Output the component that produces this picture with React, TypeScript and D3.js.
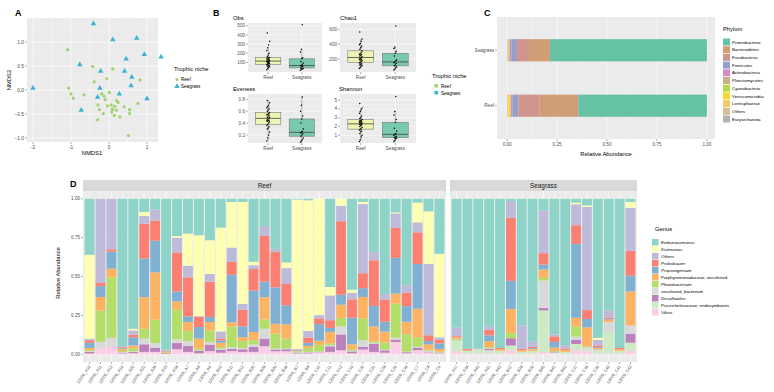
import React from "react";
import * as d3 from "d3";

const FONT = "'Liberation Sans', Arial, Helvetica, sans-serif";
const PANEL_BG = "#EBEBEB";
const TICK_TXT = "#4D4D4D";
const TICK_LINE = "#333";

// ---------- A: NMDS ordination
const reefNmds1 = [-1.09, -0.43, 0.1, 0.82, -0.39, -0.06, -1.06, -1.0, -0.94, -0.66, -0.19, 0.01, -0.1, -0.29, -0.04, 0.06, 0.2, 0.24, 0.15, 0.09, 0.19, 0.4, 0.54, 0.54, 0.76, -0.25, -0.15, 0.14, 0.29, -0.3, 0.51, -0.13, 0.07];
const reefNmds2 = [0.84, 0.49, 0.44, 0.21, 0.17, 0.24, 0.04, -0.08, -0.17, -0.1, -0.08, -0.05, -0.2, -0.31, -0.33, -0.31, -0.22, -0.26, -0.34, -0.4, -0.42, -0.35, -0.41, -0.49, -0.28, -0.41, -0.49, -0.53, -0.56, -0.62, -0.95, -0.13, -0.46];
const seagrassNmds1 = [-0.41, 0.1, 0.73, 0.93, 1.37, 0.45, -0.77, -0.22, 0.41, 0.6, -2.0, -0.24, 0.58, 0.27, -0.3, 1.0, -0.73];
const seagrassNmds2 = [1.38, 1.05, 1.08, 0.74, 0.69, 0.65, 0.53, 0.39, 0.39, 0.27, 0.04, 0.04, 0.09, -0.08, -0.15, -0.18, -0.42];
const nmdsXTicks = [-2, -1, 0, 1];
const nmdsYTicks = [-1, -0.5, 0, 0.5, 1];

// ---------- B: alpha diversity
const niches = ["Reef", "Seagrass"];
const obsReef = [20, 35, 45, 55, 60, 65, 70, 75, 80, 85, 90, 95, 100, 105, 110, 110, 115, 120, 125, 130, 135, 140, 145, 150, 155, 165, 180, 200, 230, 260, 290, 330, 420];
const obsSeagrass = [15, 25, 30, 35, 40, 50, 60, 65, 67, 75, 90, 110, 140, 150, 215, 245, 510];
const chaoReef = [70, 85, 100, 110, 120, 130, 135, 145, 155, 165, 175, 185, 190, 196, 200, 210, 220, 230, 240, 250, 260, 265, 270, 290, 310, 330, 350, 370, 390, 410, 440, 470, 564];
const chaoSeagrass = [50, 65, 80, 95, 107, 120, 140, 150, 160, 175, 190, 240, 276, 300, 340, 360, 644];
const evenReef = [0.1, 0.15, 0.2, 0.25, 0.3, 0.32, 0.34, 0.36, 0.38, 0.4, 0.42, 0.43, 0.44, 0.45, 0.45, 0.46, 0.48, 0.5, 0.5, 0.52, 0.53, 0.54, 0.55, 0.56, 0.58, 0.6, 0.62, 0.64, 0.66, 0.68, 0.7, 0.74, 0.78];
const evenSeagrass = [0.08, 0.1, 0.12, 0.15, 0.18, 0.2, 0.22, 0.24, 0.245, 0.26, 0.3, 0.4, 0.47, 0.52, 0.6, 0.7, 0.84];
const shannonReef = [0.3, 0.5, 0.8, 1.0, 1.2, 1.4, 1.5, 1.6, 1.7, 1.8, 1.9, 2.0, 2.1, 2.2, 2.25, 2.28, 2.3, 2.4, 2.45, 2.5, 2.55, 2.6, 2.66, 2.7, 2.8, 2.9, 3.0, 3.2, 3.5, 3.7, 3.9, 4.1, 4.6];
const shannonSeagrass = [0.3, 0.45, 0.6, 0.7, 0.73, 0.8, 0.9, 1.0, 1.11, 1.2, 1.5, 1.8, 2.48, 2.8, 3.3, 3.7, 5.4];

// ---------- C: phylum composition (Reef, Seagrass)
const phyla = ["Proteobacteria", "Bacteroidetes", "Fusobacteria", "Firmicutes", "Actinobacteria", "Planctomycetes", "Cyanobacteria", "Verrucomicrobia", "Lentisphaerae", "Others", "Euryarchaeota"];
const proteobacteria = [0.643, 0.785];
const bacteroidetes = [0.196, 0.105];
const fusobacteria = [0.105, 0.06];
const firmicutes = [0.03, 0.028];
const actinobacteria = [0.007, 0.008];
const planctomycetes = [0.002, 0.004];
const cyanobacteria = [0.001, 0.001];
const verrucomicrobia = [0.01, 0.002];
const lentisphaerae = [0.003, 0.002];
const otherPhyla = [0.002, 0.003];
const euryarchaeota = [0.001, 0.001];
const abundanceTicks = [0, 0.25, 0.5, 0.75, 1];

// ---------- D: genus composition per sample
const reefSamples = ["12006_A10", "12006_A11", "12006_A12", "12006_A19", "12006_A20", "12006_A21", "12006_A28", "12006_A33", "12006_A34", "12006_A7", "12006_A8", "12006_A9", "12006_B10", "12006_B11", "12006_B12", "12006_B20", "12006_B28", "12006_B29", "12006_B34", "12006_B7", "12006_B8", "12006_C10", "12006_C11", "12006_C12", "12006_C19", "12006_C20", "12006_C21", "12006_C28", "12006_C29", "12006_C34", "12006_C7", "12006_C8", "12006_C9"];
const seagrassSamples = ["12006_A37", "12006_A38", "12006_A40", "12006_A41", "12006_A42", "12006_B37", "12006_B38", "12006_B39", "12006_B40", "12006_B41", "12006_B42", "12006_C37", "12006_C38", "12006_C39", "12006_C40", "12006_C41", "12006_C42"];
const genera = ["Endozoicomonas", "Kistimonas", "Others", "Prolixibacter", "Propionigenium", "Porphyromonadaceae; uncultured", "Photobacterium", "uncultured_bacterium", "Desulfotalea", "Piscirickettsiaceae; endosymbionts", "Vibrio"];
const endozoicomonas = [0.36, 0, 0, 0.935, 0.836, 0.085, 0.07, 0.97, 0.24, 0.224, 0.235, 0.267, 0.185, 0.02, 0.02, 0.405, 0.175, 0.322, 0.41, 0.005, 0.01, 0, 0.568, 0, 0.585, 0.02, 0.344, 0.615, 0.088, 0.558, 0.024, 0.081, 0.355, 0.83, 0.964, 0.96, 0.82, 0.96, 0.015, 0.815, 0.92, 0.075, 0.872, 0.942, 0.025, 0.043, 0.893, 0.718, 0.96, 0.02];
const kistimonas = [0.54, 0, 0, 0, 0.01, 0.025, 0, 0, 0.01, 0.206, 0.52, 0.217, 0.668, 0.293, 0.656, 0.022, 0, 0, 0.036, 0.965, 0.84, 0.75, 0.054, 0.045, 0.02, 0.014, 0, 0, 0.006, 0, 0.128, 0.338, 0.538, 0, 0, 0, 0, 0, 0, 0, 0, 0, 0, 0, 0.01, 0.01, 0.013, 0, 0, 0.038];
const otherGenera = [0.01, 0.54, 0.325, 0.005, 0.028, 0.05, 0.07, 0.006, 0.095, 0.075, 0.005, 0.049, 0.047, 0.092, 0.038, 0.025, 0.064, 0.021, 0.102, 0.006, 0.043, 0.021, 0.16, 0.1, 0.042, 0.445, 0.053, 0.035, 0.094, 0.047, 0.064, 0.459, 0.017, 0.055, 0.003, 0.006, 0.022, 0, 0.107, 0.15, 0.033, 0.275, 0.013, 0.022, 0.135, 0.663, 0.036, 0.047, 0, 0.277];
const prolixibacter = [0.017, 0.02, 0.015, 0.005, 0.016, 0.224, 0.13, 0.003, 0.252, 0.252, 0.065, 0.227, 0.011, 0.083, 0.106, 0.138, 0.294, 0.227, 0.138, 0.003, 0.034, 0.037, 0.049, 0.475, 0.118, 0.096, 0.295, 0.143, 0.192, 0.087, 0.203, 0.037, 0.022, 0.008, 0.008, 0, 0.036, 0.008, 0.405, 0.008, 0.008, 0.073, 0.036, 0.008, 0.12, 0.057, 0.01, 0.008, 0.008, 0.16];
const propionigenium = [0.033, 0.07, 0.11, 0.005, 0.053, 0.249, 0.203, 0.003, 0.063, 0.036, 0.075, 0.033, 0.015, 0.305, 0.07, 0.267, 0.1, 0.234, 0.122, 0.003, 0.02, 0.107, 0.026, 0.065, 0.171, 0.057, 0.133, 0.064, 0.23, 0.101, 0.288, 0.021, 0.036, 0, 0, 0, 0.037, 0, 0.181, 0, 0.006, 0.032, 0.036, 0, 0.475, 0.054, 0.005, 0.004, 0, 0.102];
const porphyromonadaceae = [0.014, 0.087, 0.055, 0.015, 0.02, 0.203, 0.305, 0.008, 0.054, 0.057, 0.064, 0.054, 0.028, 0.027, 0.025, 0.053, 0.143, 0.064, 0.092, 0.003, 0.013, 0.027, 0.075, 0.085, 0.032, 0.139, 0.096, 0.07, 0.065, 0.081, 0.186, 0.034, 0.017, 0.008, 0.004, 0, 0.038, 0.01, 0.154, 0.01, 0.01, 0.055, 0.022, 0.012, 0.058, 0.124, 0.01, 0.015, 0.01, 0.218];
const photobacterium = [0.006, 0.2, 0.39, 0.005, 0.017, 0.064, 0.15, 0.003, 0.19, 0.065, 0.01, 0.073, 0.011, 0.133, 0.045, 0.028, 0.06, 0.096, 0.064, 0.008, 0.025, 0.043, 0.01, 0.055, 0.01, 0.139, 0.01, 0.047, 0.218, 0.111, 0.06, 0.008, 0.006, 0.01, 0, 0, 0.006, 0, 0.034, 0, 0.004, 0.016, 0.004, 0.003, 0.064, 0.004, 0, 0, 0, 0];
const unculturedBacterium = [0.005, 0.044, 0.058, 0.005, 0.005, 0.036, 0.032, 0, 0.024, 0.032, 0.005, 0.018, 0.006, 0.01, 0.008, 0.015, 0.064, 0.006, 0.004, 0.003, 0.004, 0.006, 0.008, 0.052, 0.004, 0.043, 0.005, 0.004, 0.013, 0.004, 0.007, 0.006, 0.002, 0.005, 0, 0, 0.006, 0, 0, 0, 0, 0.177, 0, 0, 0.02, 0.015, 0.01, 0.064, 0, 0.053];
const desulfotalea = [0.01, 0, 0, 0.005, 0.008, 0.049, 0.025, 0.004, 0.04, 0.038, 0.015, 0.042, 0.019, 0.015, 0.017, 0.032, 0.049, 0.011, 0.013, 0.003, 0.006, 0.003, 0.036, 0.102, 0.012, 0.017, 0.053, 0.015, 0.015, 0.007, 0.014, 0.004, 0.003, 0, 0, 0, 0.008, 0, 0.047, 0, 0, 0.015, 0.005, 0, 0.027, 0, 0, 0, 0, 0.058];
const piscirickettsiaceae = [0, 0, 0, 0, 0, 0, 0, 0, 0, 0, 0, 0, 0, 0, 0, 0, 0, 0, 0, 0, 0, 0, 0, 0, 0, 0, 0, 0, 0, 0, 0, 0, 0, 0.065, 0.015, 0.03, 0.017, 0.018, 0.03, 0.012, 0.015, 0.267, 0.008, 0.01, 0.04, 0.01, 0.017, 0.14, 0.018, 0.053];
const vibrio = [0.005, 0.036, 0.047, 0.005, 0.006, 0.015, 0.015, 0.003, 0.032, 0.015, 0.006, 0.02, 0.01, 0.02, 0.015, 0.015, 0.051, 0.019, 0.019, 0.005, 0.005, 0.008, 0.015, 0.026, 0.006, 0.03, 0.015, 0.01, 0.079, 0.006, 0.026, 0.012, 0.006, 0.02, 0.006, 0.004, 0.009, 0.004, 0.026, 0.005, 0.004, 0.015, 0.004, 0.003, 0.026, 0.02, 0.004, 0.004, 0.004, 0.021];

const nicheColor = { Reef: "#9FD46A", Seagrass: "#3AB3D3" };
const boxFill = { Reef: "#EEF5B2", Seagrass: "#79CAAD" };
const phylumColors = d3.quantize(d3.piecewise(d3.interpolateRgb, d3.schemeSet2 as string[]), 11);
const genusColors = ["#8DD3C7", "#FFFFB3", "#BEBADA", "#FB8072", "#80B1D3", "#FDB462", "#B3DE69", "#D9D9D9", "#BC80BD", "#CCEBC5", "#FCCDE5"];
const italicGenus = new Set(["Endozoicomonas", "Kistimonas", "Prolixibacter", "Propionigenium", "Photobacterium", "Desulfotalea", "Vibrio"]);

function PanelA() {
  const x = d3.scaleLinear().domain([-2.158, 1.289]).range([27, 158]);
  const y = d3.scaleLinear().domain([-1.083, 1.5]).range([142, 18]);
  const tri = d3.symbol(d3.symbolTriangle, 13)();
  const xMinor = [-1.5, -0.5, 0.5];
  const yMinor = [-0.75, -0.25, 0.25, 0.75, 1.25];
  return (
    <g>
      <rect x={27} y={18} width={131} height={124} fill={PANEL_BG} />
      {xMinor.map((v) => <line key={"xm" + v} x1={x(v)} x2={x(v)} y1={18} y2={142} stroke="#fff" strokeWidth={0.3} />)}
      {yMinor.map((v) => <line key={"ym" + v} y1={y(v)} y2={y(v)} x1={27} x2={158} stroke="#fff" strokeWidth={0.3} />)}
      {nmdsXTicks.map((v) => <line key={"xg" + v} x1={x(v)} x2={x(v)} y1={18} y2={142} stroke="#fff" strokeWidth={0.6} />)}
      {nmdsYTicks.map((v) => <line key={"yg" + v} y1={y(v)} y2={y(v)} x1={27} x2={158} stroke="#fff" strokeWidth={0.6} />)}
      {reefNmds1.map((v, i) => <circle key={"r" + i} cx={x(v)} cy={y(reefNmds2[i])} r={1.6} fill={nicheColor.Reef} />)}
      {seagrassNmds1.map((v, i) => <path key={"s" + i} d={tri!} transform={`translate(${x(v)},${y(seagrassNmds2[i])})`} fill={nicheColor.Seagrass} />)}
      {nmdsXTicks.map((v) => (
        <g key={"xt" + v}>
          <line x1={x(v)} x2={x(v)} y1={142} y2={144} stroke={TICK_LINE} strokeWidth={0.4} />
          <text x={x(v)} y={149} fontSize={4.8} textAnchor="middle" fill={TICK_TXT}>{v}</text>
        </g>
      ))}
      {nmdsYTicks.map((v) => (
        <g key={"yt" + v}>
          <line x1={25} x2={27} y1={y(v)} y2={y(v)} stroke={TICK_LINE} strokeWidth={0.4} />
          <text x={24} y={y(v) + 1.7} fontSize={4.8} textAnchor="end" fill={TICK_TXT}>{d3.format(".1f")(v)}</text>
        </g>
      ))}
      <text x={92} y={155} fontSize={5.8} textAnchor="middle">NMDS1</text>
      <text transform="translate(11,80) rotate(-90)" fontSize={5.8} textAnchor="middle">NMDS2</text>
      <text x={174} y={71} fontSize={5.8}>Trophic niche</text>
      <circle cx={177} cy={79.5} r={1.6} fill={nicheColor.Reef} />
      <path d={tri!} transform="translate(177,86.5)" fill={nicheColor.Seagrass} />
      <text x={181} y={81.2} fontSize={4.6}>Reef</text>
      <text x={181} y={88.2} fontSize={4.6}>Seagrass</text>
    </g>
  );
}

type Facet = { title: string; tx: number; ty: number; x0: number; x1: number; y0: number; y1: number; domain: [number, number]; ticks: number[]; fmt: (v: number) => string; reef: number[]; seagrass: number[] };

function boxStats(vals: number[]) {
  const s = [...vals].sort(d3.ascending);
  const q1 = d3.quantile(s, 0.25)!;
  const med = d3.quantile(s, 0.5)!;
  const q3 = d3.quantile(s, 0.75)!;
  const iqr = q3 - q1;
  const lo = d3.min(s.filter((v) => v >= q1 - 1.5 * iqr))!;
  const hi = d3.max(s.filter((v) => v <= q3 + 1.5 * iqr))!;
  return { q1, med, q3, lo, hi };
}

function BoxFacet({ f }: { f: Facet }) {
  const x = d3.scalePoint().domain(niches).range([f.x0, f.x1]).padding(0.6);
  const step = x.step();
  const y = d3.scaleLinear().domain(f.domain).range([f.y1, f.y0]);
  const minor = f.ticks.slice(1).map((t, i) => (t + f.ticks[i]) / 2);
  const groups = [f.reef, f.seagrass];
  return (
    <g>
      <text x={f.tx} y={f.ty} fontSize={5.8}>{f.title}</text>
      <rect x={f.x0} y={f.y0} width={f.x1 - f.x0} height={f.y1 - f.y0} fill={PANEL_BG} />
      {minor.map((v) => <line key={"m" + v} x1={f.x0} x2={f.x1} y1={y(v)} y2={y(v)} stroke="#fff" strokeWidth={0.3} />)}
      {f.ticks.map((v) => <line key={"g" + v} x1={f.x0} x2={f.x1} y1={y(v)} y2={y(v)} stroke="#fff" strokeWidth={0.6} />)}
      {niches.map((n) => <line key={"v" + n} x1={x(n)} x2={x(n)} y1={f.y0} y2={f.y1} stroke="#fff" strokeWidth={0.6} />)}
      {niches.map((n, gi) => {
        const st = boxStats(groups[gi]);
        const cx = x(n)!;
        const w = step * 0.75;
        return (
          <g key={n}>
            <line x1={cx} x2={cx} y1={y(st.hi)} y2={y(st.q3)} stroke="#666" strokeWidth={0.5} />
            <line x1={cx} x2={cx} y1={y(st.q1)} y2={y(st.lo)} stroke="#666" strokeWidth={0.5} />
            <rect x={cx - w / 2} y={y(st.q3)} width={w} height={y(st.q1) - y(st.q3)} fill={boxFill[n as "Reef"]} stroke="#7a7a7a" strokeWidth={0.6} />
            <line x1={cx - w / 2} x2={cx + w / 2} y1={y(st.med)} y2={y(st.med)} stroke="#444" strokeWidth={0.8} />
            {groups[gi].map((v, i) => (
              <circle key={i} cx={cx + (((i * 37) % 7) - 3) * 0.45} cy={y(v)} r={0.75} fill="#000" />
            ))}
            <line x1={cx} x2={cx} y1={f.y1} y2={f.y1 + 2} stroke={TICK_LINE} strokeWidth={0.4} />
            <text x={cx} y={f.y1 + 7} fontSize={4.6} textAnchor="middle" fill={TICK_TXT}>{n}</text>
          </g>
        );
      })}
      {f.ticks.map((v) => (
        <g key={"t" + v}>
          <line x1={f.x0 - 2} x2={f.x0} y1={y(v)} y2={y(v)} stroke={TICK_LINE} strokeWidth={0.4} />
          <text x={f.x0 - 3} y={y(v) + 1.6} fontSize={4.6} textAnchor="end" fill={TICK_TXT}>{f.fmt(v)}</text>
        </g>
      ))}
    </g>
  );
}

function PanelB() {
  const facets: Facet[] = [
    { title: "Obs", tx: 233, ty: 20, x0: 248, x1: 322, y0: 23, y1: 72, domain: [-4, 530], ticks: [100, 200, 300, 400, 500], fmt: (v) => String(v), reef: obsReef, seagrass: obsSeagrass },
    { title: "Chao1", tx: 340, ty: 20, x0: 340, x1: 416, y0: 23, y1: 72, domain: [24, 685], ticks: [200, 400, 600], fmt: (v) => String(v), reef: chaoReef, seagrass: chaoSeagrass },
    { title: "Eveness", tx: 233, ty: 91, x0: 248, x1: 322, y0: 94, y1: 143, domain: [0.066, 0.889], ticks: [0.2, 0.4, 0.6, 0.8], fmt: d3.format(".1f"), reef: evenReef, seagrass: evenSeagrass },
    { title: "Shannon", tx: 339, ty: 91, x0: 340, x1: 416, y0: 94, y1: 143, domain: [0.125, 5.69], ticks: [1, 2, 3, 4, 5], fmt: (v) => String(v), reef: shannonReef, seagrass: shannonSeagrass },
  ];
  return (
    <g>
      {facets.map((f) => <BoxFacet key={f.title} f={f} />)}
      <text x={432} y={78} fontSize={5.8}>Trophic niche</text>
      <rect x={434.5} y={84} width={3.5} height={3.5} fill={nicheColor.Reef} />
      <rect x={434.5} y={91} width={3.5} height={3.5} fill={nicheColor.Seagrass} />
      <text x={441} y={87.6} fontSize={4.6}>Reef</text>
      <text x={441} y={94.6} fontSize={4.6}>Seagrass</text>
    </g>
  );
}

function PanelC() {
  const x = d3.scaleLinear().domain([-0.0508, 1.0406]).range([497, 715]);
  const yb = d3.scaleBand().domain(["Seagrass", "Reef"]).range([17, 139]).paddingInner(0.6).paddingOuter(0.4);
  const byPhylum = [proteobacteria, bacteroidetes, fusobacteria, firmicutes, actinobacteria, planctomycetes, cyanobacteria, verrucomicrobia, lentisphaerae, otherPhyla, euryarchaeota];
  const rows = niches.map((n, i) => {
    const r: Record<string, any> = { niche: n };
    phyla.forEach((p, j) => (r[p] = byPhylum[j][i]));
    return r;
  });
  const keys = [...phyla].reverse();
  const series = d3.stack().keys(keys).offset(d3.stackOffsetExpand)(rows as any);
  const minor = [0.125, 0.375, 0.625, 0.875];
  return (
    <g>
      <rect x={497} y={17} width={218} height={122} fill={PANEL_BG} />
      {minor.map((v) => <line key={"m" + v} x1={x(v)} x2={x(v)} y1={17} y2={139} stroke="#fff" strokeWidth={0.3} />)}
      {abundanceTicks.map((v) => <line key={"g" + v} x1={x(v)} x2={x(v)} y1={17} y2={139} stroke="#fff" strokeWidth={0.6} />)}
      {niches.map((n) => <line key={"h" + n} x1={497} x2={715} y1={yb(n)! + yb.bandwidth() / 2} y2={yb(n)! + yb.bandwidth() / 2} stroke="#fff" strokeWidth={0.6} />)}
      {series.map((s) => {
        const col = phylumColors[phyla.indexOf(s.key)];
        return s.map((d, i) => (
          <rect key={s.key + i} x={x(d[0])} width={Math.max(0, x(d[1]) - x(d[0]))} y={yb(niches[i])} height={yb.bandwidth()} fill={col} />
        ));
      })}
      {niches.map((n) => (
        <g key={"yl" + n}>
          <line x1={495} x2={497} y1={yb(n)! + yb.bandwidth() / 2} y2={yb(n)! + yb.bandwidth() / 2} stroke={TICK_LINE} strokeWidth={0.4} />
          <text x={494} y={yb(n)! + yb.bandwidth() / 2 + 1.6} fontSize={4.6} textAnchor="end" fill={TICK_TXT}>{n}</text>
        </g>
      ))}
      {abundanceTicks.map((v) => (
        <g key={"xt" + v}>
          <line x1={x(v)} x2={x(v)} y1={139} y2={141} stroke={TICK_LINE} strokeWidth={0.4} />
          <text x={x(v)} y={146} fontSize={4.6} textAnchor="middle" fill={TICK_TXT}>{d3.format(".2f")(v)}</text>
        </g>
      ))}
      <text x={606} y={156} fontSize={5.8} textAnchor="middle">Relative Abundance</text>
      <text x={723} y={31} fontSize={5.8}>Phylum</text>
      {phyla.map((p, i) => (
        <g key={p}>
          <rect x={723} y={38.5 + i * 7.7} width={7} height={7} fill={phylumColors[i]} />
          <text x={732} y={43.6 + i * 7.7} fontSize={4.4}>{p}</text>
        </g>
      ))}
    </g>
  );
}

function PanelD() {
  const y = d3.scaleLinear().domain([-0.05, 1.05]).range([362, 191]);
  const byGenus = [endozoicomonas, kistimonas, otherGenera, prolixibacter, propionigenium, porphyromonadaceae, photobacterium, unculturedBacterium, desulfotalea, piscirickettsiaceae, vibrio];
  const samples = [...reefSamples, ...seagrassSamples];
  const rows = samples.map((s, i) => {
    const r: Record<string, any> = { sample: s };
    genera.forEach((g, j) => (r[g] = byGenus[j][i]));
    return r;
  });
  const keys = [...genera].reverse();
  const series = d3.stack().keys(keys).offset(d3.stackOffsetExpand)(rows as any);
  const facets = [
    { name: "Reef", list: reefSamples, x0: 83, x1: 446, offset: 0 },
    { name: "Seagrass", list: seagrassSamples, x0: 450, x1: 637, offset: reefSamples.length },
  ];
  const minor = [0.125, 0.375, 0.625, 0.875];
  return (
    <g>
      {facets.map((f) => {
        const x = d3.scaleBand().domain(f.list).range([f.x0, f.x1]).paddingInner(0.1).paddingOuter(0.15);
        return (
          <g key={f.name}>
            <rect x={f.x0} y={180} width={f.x1 - f.x0} height={11} fill="#D9D9D9" />
            <text x={(f.x0 + f.x1) / 2} y={188} fontSize={6.4} textAnchor="middle" fill="#1A1A1A">{f.name}</text>
            <rect x={f.x0} y={191} width={f.x1 - f.x0} height={171} fill={PANEL_BG} />
            {minor.map((v) => <line key={"m" + v} x1={f.x0} x2={f.x1} y1={y(v)} y2={y(v)} stroke="#fff" strokeWidth={0.3} />)}
            {abundanceTicks.map((v) => <line key={"g" + v} x1={f.x0} x2={f.x1} y1={y(v)} y2={y(v)} stroke="#fff" strokeWidth={0.6} />)}
            {f.list.map((s) => <line key={"v" + s} x1={x(s)! + x.bandwidth() / 2} x2={x(s)! + x.bandwidth() / 2} y1={191} y2={362} stroke="#fff" strokeWidth={0.6} />)}
            {series.map((ser) => {
              const col = genusColors[genera.indexOf(ser.key)];
              return f.list.map((s, i) => {
                const d = ser[f.offset + i];
                return <rect key={ser.key + s} x={x(s)} width={x.bandwidth()} y={y(d[1])} height={Math.max(0, y(d[0]) - y(d[1]))} fill={col} />;
              });
            })}
            {f.list.map((s) => {
              const cx = x(s)! + x.bandwidth() / 2;
              return (
                <g key={"l" + s}>
                  <line x1={cx} x2={cx} y1={362} y2={364} stroke={TICK_LINE} strokeWidth={0.4} />
                  <text transform={`translate(${cx + 1.5},${366.5}) rotate(-55)`} fontSize={4.2} textAnchor="end" fill={TICK_TXT}>{s}</text>
                </g>
              );
            })}
          </g>
        );
      })}
      {abundanceTicks.map((v) => (
        <g key={"yt" + v}>
          <line x1={81} x2={83} y1={y(v)} y2={y(v)} stroke={TICK_LINE} strokeWidth={0.4} />
          <text x={80} y={y(v) + 1.6} fontSize={4.6} textAnchor="end" fill={TICK_TXT}>{d3.format(".2f")(v)}</text>
        </g>
      ))}
      <text transform="translate(60,273) rotate(-90)" fontSize={5.8} textAnchor="middle">Relative Abundance</text>
      <text x={655} y={231} fontSize={5.8}>Genus</text>
      {genera.map((g, i) => (
        <g key={g}>
          <rect x={652} y={239 + i * 7} width={6.5} height={6.5} fill={genusColors[i]} />
          <text x={661} y={244 + i * 7} fontSize={4.4} fontStyle={italicGenus.has(g) ? "italic" : "normal"}>{g}</text>
        </g>
      ))}
    </g>
  );
}

export default function App() {
  return (
    <svg width={774} height={392} style={{ position: "absolute", left: 0, top: 0, background: "#fff" }} fontFamily={FONT}>
      <text x={15} y={16} fontSize={9} fontWeight="bold">A</text>
      <text x={213} y={16} fontSize={9} fontWeight="bold">B</text>
      <text x={484} y={16} fontSize={9} fontWeight="bold">C</text>
      <text x={70} y={187} fontSize={9} fontWeight="bold">D</text>
      <PanelA />
      <PanelB />
      <PanelC />
      <PanelD />
    </svg>
  );
}
